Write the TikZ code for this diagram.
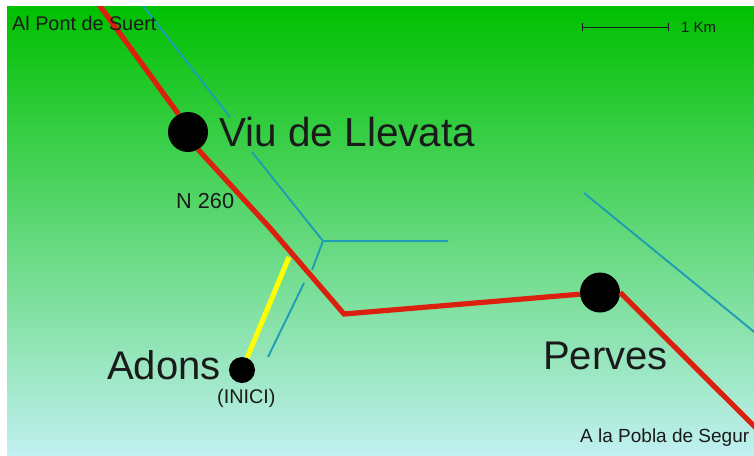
\documentclass[tikz,border=0pt]{standalone}
\usepackage{fontspec}
\setmainfont{Liberation Sans}
\definecolor{roadred}{HTML}{DC2010}
\definecolor{riverblue}{HTML}{1E9DB4}
\definecolor{routeyellow}{HTML}{FFFF00}
\definecolor{inktext}{HTML}{1A1A1A}
\definecolor{skytop}{RGB}{0,192,0}
\definecolor{skymid}{RGB}{96,216,112}
\definecolor{skybot}{RGB}{192,240,240}
\tikzset{
  road/.style={draw=roadred,line width=5.2pt,line join=miter},
  river/.style={draw=riverblue,line width=1.9pt},
  route/.style={draw=routeyellow,line width=5pt},
  town/.style={circle,fill=black,inner sep=0pt,minimum size=40pt},
  smalltown/.style={circle,fill=black,inner sep=0pt,minimum size=26pt},
  label/.style={anchor=base west,inner sep=0pt,text=inktext},
  bigtext/.style={label,font=\fontsize{40}{41}\selectfont},
  smalltext/.style={label,font=\fontsize{19.8}{20}\selectfont},
}
\begin{document}
\begin{tikzpicture}[x=1pt,y=-1pt]
\useasboundingbox (0,0) rectangle (754,455);
\fill[white] (0,0) rectangle (754,455);
\shade[top color=skytop,middle color=skymid,bottom color=skybot] (7,6) rectangle (754,455);
% towns
\node[town] (viu) at (188,132) {};
\node[town] (perves) at (600,292.5) {};
\node[smalltown] (adons) at (242,370) {};
% points on the roads and rivers
\coordinate (roadN) at (95.6,0);
\coordinate (kink) at (270,228);
\coordinate (bend) at (344,314);
\coordinate (roadE) at (758,430);
\coordinate (routeJ) at (289,257);
\coordinate (riverN) at (138.5,0);
\coordinate (riverGapA) at (230,117);
\coordinate (riverGapB) at (252,152);
\coordinate (fork) at (323,241);
\coordinate (riverE) at (448,241);
\coordinate (riverCutA) at (312,270);
\coordinate (riverCutB) at (304,283);
\coordinate (riverS) at (268,357);
\coordinate (river2A) at (584,193);
\coordinate (river2B) at (758,335);
\coordinate (barA) at (582,27);
\coordinate (barB) at (669,27);
\begin{scope}
\clip (7,6) rectangle (754,455);
\draw[river] (riverN) -- (riverGapA);
\draw[river] (riverGapB) -- (fork) -- (riverE);
\draw[river] (fork) -- (riverCutA);
\draw[river] (riverCutB) -- (riverS);
\draw[river] (river2A) -- (river2B);
\draw[route] (adons) -- (routeJ);
\draw[road] (roadN) -- (viu.118);
\draw[road] (viu.-60) -- (kink) -- (bend) -- (perves);
\draw[road] (perves.east) -- (roadE);
\end{scope}
\draw[|-|,draw=inktext,line width=0.8pt] (barA) -- (barB);
% labels
\node[smalltext] (pont) at (12,30) {Al Pont de Suert};
\node[label,font=\fontsize{15}{15}\selectfont] (km) at (681,32) {1 Km};
\node[label,font=\fontsize{40.5}{41}\selectfont] (viutext) at (219,146) {Viu de Llevata};
\node[label,font=\fontsize{21.7}{22}\selectfont] (n260) at (176,208) {N 260};
\node[bigtext] (adonstext) at (107,379) {Adons};
\node[smalltext] (inici) at (217,403) {(INICI)};
\node[bigtext] (pervestext) at (543,369) {Perves};
\node[label,font=\fontsize{19}{20}\selectfont] (pobla) at (580,442) {A la Pobla de Segur};
\end{tikzpicture}
\end{document}
